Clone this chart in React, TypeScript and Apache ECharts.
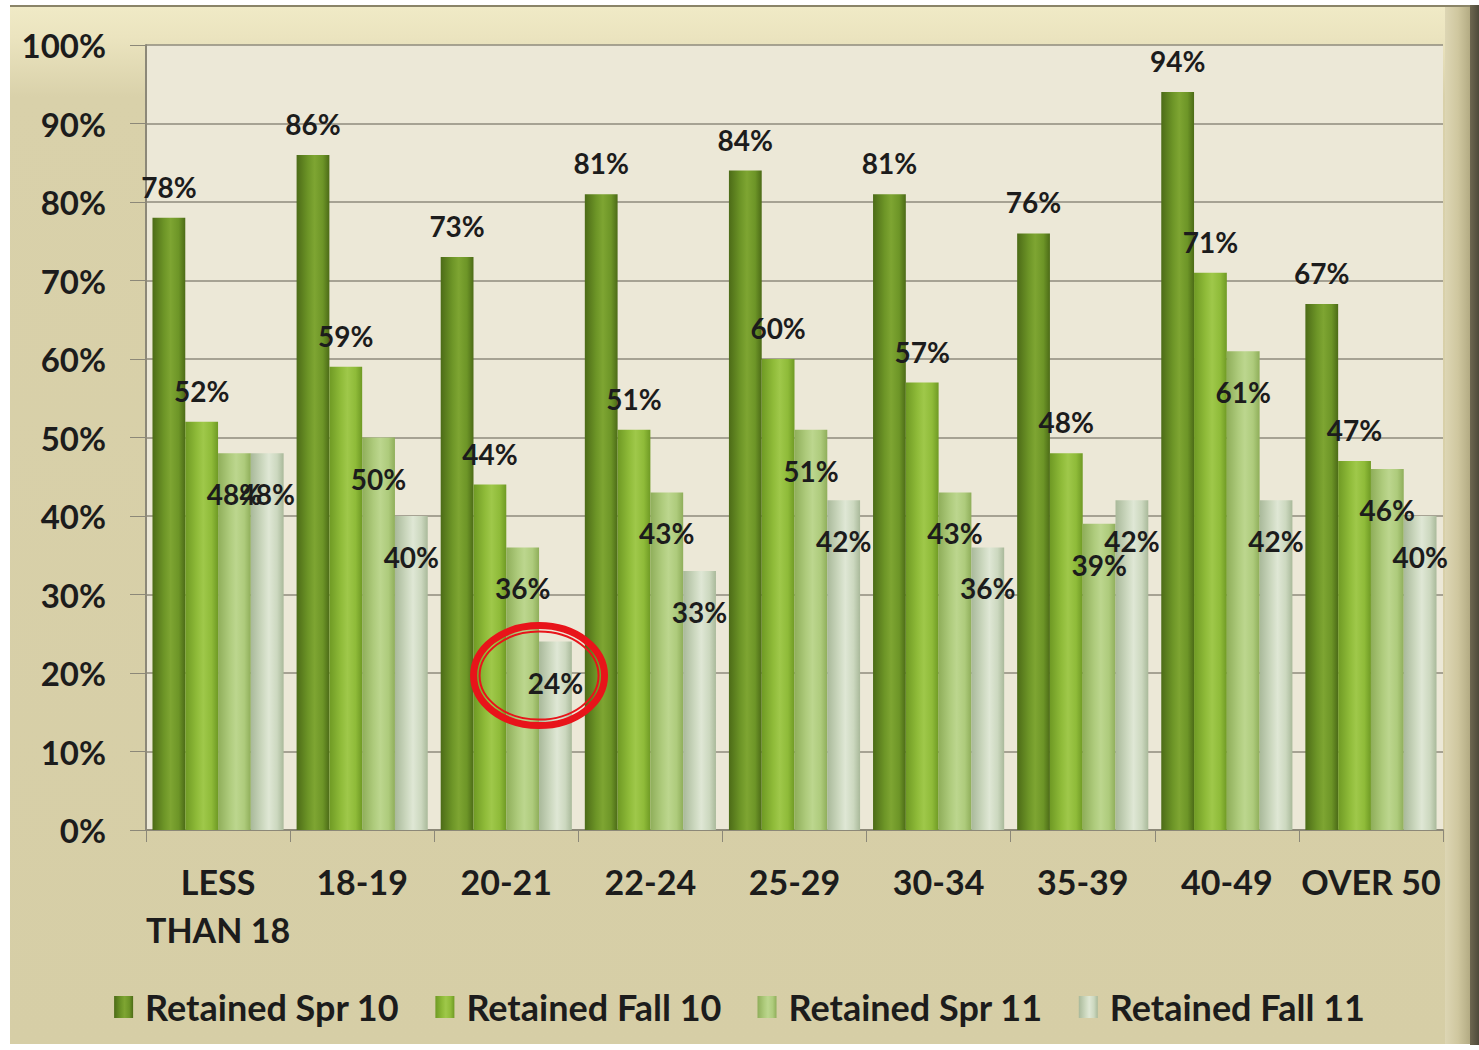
import React, { useEffect, useRef } from "react";
import * as echarts from "echarts";

const categories = ["LESS\nTHAN 18", "18-19", "20-21", "22-24", "25-29", "30-34", "35-39", "40-49", "OVER 50"];
const retainedSpr10 = [78, 86, 73, 81, 84, 81, 76, 94, 67];
const retainedFall10 = [52, 59, 44, 51, 60, 57, 48, 71, 47];
const retainedSpr11 = [48, 50, 36, 43, 51, 43, 39, 61, 46];
const retainedFall11 = [48, 40, 24, 33, 42, 36, 42, 42, 40];
const seriesNames = ["Retained Spr 10", "Retained Fall 10", "Retained Spr 11", "Retained Fall 11"];
const highlightIndex = 2; // 20-21, Retained Fall 11

const FONT = "Lato, 'Open Sans', sans-serif";

function grad(edge: string, mid: string, light: string) {
  return new echarts.graphic.LinearGradient(0, 0, 1, 0, [
    { offset: 0, color: edge },
    { offset: 0.35, color: mid },
    { offset: 0.55, color: light },
    { offset: 0.8, color: mid },
    { offset: 1, color: edge },
  ]);
}

export default function App() {
  const ref = useRef<HTMLDivElement>(null);
  useEffect(() => {
    if (!ref.current) return;
    const chart = echarts.init(ref.current, undefined, { renderer: "svg" });
    const colors = [
      grad("#4c6b17", "#6d9527", "#7ea532"),
      grad("#6f9a24", "#8fbb39", "#9fc84a"),
      grad("#8fae5a", "#aecb7c", "#bcd68e"),
      grad("#a9b99a", "#ccd8bf", "#dfe7d5"),
    ];
    const datas = [retainedSpr10, retainedFall10, retainedSpr11, retainedFall11];
    const series = datas.map((d, i) => ({
      type: "bar",
      name: seriesNames[i],
      data: d,
      barGap: "0%",
      barCategoryGap: "9%",
      itemStyle: { color: colors[i] },
      label: {
        show: true,
        position: i < 2 ? "top" : "insideTop",
        distance: i < 2 ? 17 : 27,
        formatter: "{c}%",
        color: "#1c1c1c",
        fontFamily: FONT,
        fontWeight: "bold",
        fontSize: 28,
      },
    }));
    chart.setOption({
      animation: false,
      backgroundColor: "transparent",
      grid: {
        left: 146,
        right: 36,
        top: 45,
        bottom: 220,
        show: true,
        backgroundColor: "#ece8d7",
        borderWidth: 0,
      },
      legend: {
        data: seriesNames,
        left: "center",
        top: 984,
        icon: "rect",
        itemWidth: 19,
        itemHeight: 22,
        itemGap: 36,
        textStyle: {
          fontFamily: FONT,
          fontWeight: "bold",
          fontSize: 36,
          color: "#1c1c1c",
          padding: [0, 0, 0, 7],
        },
      },
      xAxis: {
        type: "category",
        data: categories,
        axisLine: { show: true, lineStyle: { color: "#8c8878", width: 2 } },
        axisTick: { show: true, length: 12, lineStyle: { color: "#8c8878" } },
        axisLabel: {
          margin: 27,
          fontFamily: FONT,
          fontWeight: "bold",
          fontSize: 34,
          lineHeight: 48,
          color: "#1c1c1c",
          interval: 0,
        },
      },
      yAxis: {
        type: "value",
        min: 0,
        max: 100,
        interval: 10,
        axisLine: { show: true, lineStyle: { color: "#8c8878", width: 2 } },
        axisTick: { show: true, length: 16, lineStyle: { color: "#8c8878" } },
        splitLine: { show: true, lineStyle: { color: "#8f8b7c", width: 1.5 } },
        axisLabel: {
          formatter: "{value}%",
          margin: 40,
          fontFamily: FONT,
          fontWeight: "bold",
          fontSize: 33,
          color: "#1c1c1c",
        },
      },
      series,
    });

    // annotation ellipse around the highlighted value, positioned via the axes
    const catCenter = chart.convertToPixel({ xAxisIndex: 0 }, highlightIndex) as number;
    const cat1 = chart.convertToPixel({ xAxisIndex: 0 }, 1) as number;
    const cat0 = chart.convertToPixel({ xAxisIndex: 0 }, 0) as number;
    const catW = cat1 - cat0;
    const barW = (catW * 0.91) / 4;
    const yTop = chart.convertToPixel({ yAxisIndex: 0 }, retainedFall11[highlightIndex]) as number;
    const cx = catCenter + barW * 1.0;
    const cy = yTop + 34;
    chart.setOption({
      graphic: [
        {
          type: "ellipse",
          shape: { cx, cy, rx: 65.5, ry: 50 },
          style: { fill: "transparent", stroke: "#e8141a", lineWidth: 7 },
          z: 100,
        },
        {
          type: "ellipse",
          shape: { cx, cy, rx: 59.5, ry: 44 },
          style: { fill: "transparent", stroke: "#e8141a", lineWidth: 2 },
          z: 100,
        },
      ],
    });
    return () => chart.dispose();
  }, []);

  return (
    <div style={{ position: "fixed", left: 0, top: 0, width: 1479, height: 1050, background: "#ffffff" }}>
      <div
        style={{
          position: "absolute",
          left: 10,
          top: 5,
          width: 1469,
          height: 1039,
          boxSizing: "border-box",
          borderTop: "2px solid #8a8468",
          background: "linear-gradient(180deg, #f0eac6 0px, #ebe4bf 30px, #d9d1aa 90px, #d6cea6 100%)",
        }}
      />
      <div
        style={{
          position: "absolute",
          left: 1445,
          top: 7,
          width: 26,
          height: 1037,
          background: "linear-gradient(90deg, #ddd6b4 0%, #cfc79f 50%, #b1a981 100%)",
        }}
      />
      <div
        style={{
          position: "absolute",
          left: 1470,
          top: 5,
          width: 9,
          height: 1040,
          background: "linear-gradient(90deg, #6e6750 0%, #4e4a3a 100%)",
        }}
      />
      <div style={{ position: "absolute", left: 0, top: 0, width: 1479, height: 1050 }} ref={ref} />
    </div>
  );
}
